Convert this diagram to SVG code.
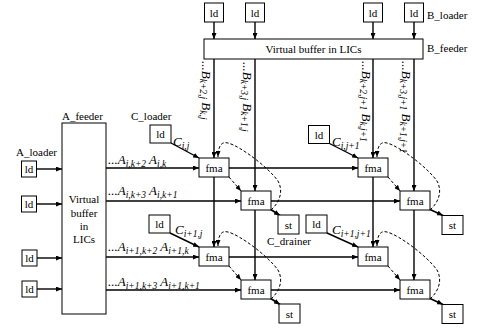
<svg xmlns="http://www.w3.org/2000/svg" width="487" height="328" viewBox="0 0 487 328">
<style>
.box{fill:#fff;stroke:#000;stroke-width:1}
.t{font-family:"Liberation Serif","Times New Roman",serif;font-size:11px;fill:#000}
.c{text-anchor:middle}
.lab{font-family:"Liberation Serif","Times New Roman",serif;font-size:13px;font-style:italic;fill:#000}
.sub{font-size:9.5px}
.ln{fill:none;stroke:#000;stroke-width:1.4}
.th{fill:none;stroke:#000;stroke-width:1.8}
.da{fill:none;stroke:#000;stroke-width:1;stroke-dasharray:3,2}
</style>
<defs>
<marker id="ah" viewBox="0 0 6 5" refX="6" refY="2.5" markerWidth="6" markerHeight="5" markerUnits="userSpaceOnUse" orient="auto"><path d="M0,0 L6,2.5 L0,5 z" fill="#000"/></marker>
</defs>

<g id="connectors">
<line class="ln" x1="214" y1="22" x2="214" y2="39" marker-end="url(#ah)"/>
<line class="ln" x1="255" y1="22" x2="255" y2="39" marker-end="url(#ah)"/>
<line class="ln" x1="373" y1="22" x2="373" y2="39" marker-end="url(#ah)"/>
<line class="ln" x1="414" y1="22" x2="414" y2="39" marker-end="url(#ah)"/>
<line class="ln" x1="214" y1="59" x2="214" y2="158" marker-end="url(#ah)"/>
<line class="ln" x1="255" y1="59" x2="255" y2="191" marker-end="url(#ah)"/>
<line class="ln" x1="373" y1="59" x2="373" y2="158" marker-end="url(#ah)"/>
<line class="ln" x1="414" y1="59" x2="414" y2="191" marker-end="url(#ah)"/>
<line class="ln" x1="214" y1="177" x2="214" y2="247" marker-end="url(#ah)"/>
<line class="ln" x1="255" y1="210" x2="255" y2="280" marker-end="url(#ah)"/>
<line class="ln" x1="373" y1="177" x2="373" y2="247" marker-end="url(#ah)"/>
<line class="ln" x1="414" y1="210" x2="414" y2="280" marker-end="url(#ah)"/>
<line class="ln" x1="36.5" y1="169" x2="62" y2="169" marker-end="url(#ah)"/>
<line class="ln" x1="36.5" y1="204" x2="62" y2="204" marker-end="url(#ah)"/>
<line class="ln" x1="37" y1="258" x2="62" y2="258" marker-end="url(#ah)"/>
<line class="ln" x1="37" y1="289" x2="62" y2="289" marker-end="url(#ah)"/>
<line class="ln" x1="106" y1="168" x2="199" y2="168" marker-end="url(#ah)"/>
<line class="ln" x1="229" y1="168" x2="358" y2="168" marker-end="url(#ah)"/>
<line class="ln" x1="106" y1="201" x2="241" y2="201" marker-end="url(#ah)"/>
<line class="ln" x1="271" y1="201" x2="400" y2="201" marker-end="url(#ah)"/>
<line class="ln" x1="106" y1="257" x2="199" y2="257" marker-end="url(#ah)"/>
<line class="ln" x1="229" y1="257" x2="358" y2="257" marker-end="url(#ah)"/>
<line class="ln" x1="106" y1="290" x2="241" y2="290" marker-end="url(#ah)"/>
<line class="ln" x1="271" y1="290" x2="400" y2="290" marker-end="url(#ah)"/>
<line class="ln" x1="171" y1="143" x2="199" y2="158" marker-end="url(#ah)"/>
<line class="ln" x1="170" y1="233" x2="199" y2="247" marker-end="url(#ah)"/>
<line class="ln" x1="329.5" y1="143.5" x2="358" y2="158" marker-end="url(#ah)"/>
<line class="ln" x1="327" y1="233" x2="358" y2="247" marker-end="url(#ah)"/>
<line class="th" x1="270" y1="209" x2="280" y2="215.5" marker-end="url(#ah)"/>
<line class="th" x1="270" y1="298" x2="280" y2="304.5" marker-end="url(#ah)"/>
<line class="th" x1="429" y1="209" x2="443" y2="215.5" marker-end="url(#ah)"/>
<line class="th" x1="429" y1="298" x2="443" y2="304.5" marker-end="url(#ah)"/>
<line class="da" x1="229" y1="177" x2="241" y2="191" marker-end="url(#ah)"/>
<line class="da" x1="388" y1="177" x2="400" y2="191" marker-end="url(#ah)"/>
<line class="da" x1="229" y1="266" x2="241" y2="280" marker-end="url(#ah)"/>
<line class="da" x1="388" y1="266" x2="400" y2="280" marker-end="url(#ah)"/>
<path class="da" d="M271,210 C281,201 283,190 278,181 C268,167 240,146 228,143 C221,141 218,147 218,157" marker-end="url(#ah)"/>
<path class="da" d="M430,210 C440,201 442,190 437,181 C427,167 399,146 387,143 C380,141 377,147 377,157" marker-end="url(#ah)"/>
<path class="da" d="M271,299 C281,290 283,279 278,270 C268,256 240,235 228,232 C221,230 218,236 218,246" marker-end="url(#ah)"/>
<path class="da" d="M430,299 C440,290 442,279 437,270 C427,256 399,235 387,232 C380,230 377,236 377,246" marker-end="url(#ah)"/>
</g>

<g id="b-loader-1"><rect class="box" x="204.5" y="3" width="19" height="19"/><text class="t c" x="214" y="16.5">ld</text></g>
<g id="b-loader-2"><rect class="box" x="245.5" y="3" width="19" height="19"/><text class="t c" x="255" y="16.5">ld</text></g>
<g id="b-loader-3"><rect class="box" x="363.5" y="3" width="19" height="19"/><text class="t c" x="373" y="16.5">ld</text></g>
<g id="b-loader-4"><rect class="box" x="404.5" y="3" width="19" height="19"/><text class="t c" x="414" y="16.5">ld</text></g>
<text class="t" x="427" y="19">B_loader</text>

<g id="b-feeder"><rect class="box" x="204" y="39" width="219" height="20"/><text class="t c" x="313.5" y="53">Virtual buffer in LICs</text></g>
<text class="t" x="427" y="52">B_feeder</text>

<g id="a-feeder"><rect class="box" x="62" y="123" width="44" height="191"/>
<text class="t c" x="84" y="203">Virtual</text><text class="t c" x="84" y="216.5">buffer</text><text class="t c" x="84" y="230">in</text><text class="t c" x="84" y="243">LICs</text></g>
<text class="t" x="62" y="120">A_feeder</text>
<text class="t" x="16" y="156">A_loader</text>

<g id="a-loader-1"><rect class="box" x="21.5" y="161" width="15" height="16"/><text class="t c" x="29" y="172.5">ld</text></g>
<g id="a-loader-2"><rect class="box" x="21.5" y="196" width="15" height="16"/><text class="t c" x="29" y="207.5">ld</text></g>
<g id="a-loader-3"><rect class="box" x="22" y="250" width="15" height="16"/><text class="t c" x="29.5" y="261.5">ld</text></g>
<g id="a-loader-4"><rect class="box" x="22" y="281" width="15" height="16"/><text class="t c" x="29.5" y="292.5">ld</text></g>

<text class="t" x="131" y="120">C_loader</text>
<g id="c-loader-1"><rect class="box" x="150" y="125" width="21" height="18"/><text class="t c" x="160.5" y="138">ld</text></g>
<g id="c-loader-2"><rect class="box" x="149" y="215" width="21" height="18"/><text class="t c" x="159.5" y="228">ld</text></g>
<g id="c-loader-3"><rect class="box" x="308.5" y="125.5" width="21" height="18"/><text class="t c" x="319" y="138.5">ld</text></g>
<g id="c-loader-4"><rect class="box" x="306" y="215" width="21" height="18"/><text class="t c" x="316.5" y="228">ld</text></g>

<g id="fma-1"><rect class="box" x="199" y="158" width="30" height="19"/><text class="t c" x="214" y="171.5">fma</text></g>
<g id="fma-2"><rect class="box" x="241" y="191" width="30" height="19"/><text class="t c" x="256" y="204.5">fma</text></g>
<g id="fma-3"><rect class="box" x="199" y="247" width="30" height="19"/><text class="t c" x="214" y="260.5">fma</text></g>
<g id="fma-4"><rect class="box" x="241" y="280" width="30" height="19"/><text class="t c" x="256" y="293.5">fma</text></g>
<g id="fma-5"><rect class="box" x="358" y="158" width="30" height="19"/><text class="t c" x="373" y="171.5">fma</text></g>
<g id="fma-6"><rect class="box" x="400" y="191" width="30" height="19"/><text class="t c" x="415" y="204.5">fma</text></g>
<g id="fma-7"><rect class="box" x="358" y="247" width="30" height="19"/><text class="t c" x="373" y="260.5">fma</text></g>
<g id="fma-8"><rect class="box" x="400" y="280" width="30" height="19"/><text class="t c" x="415" y="293.5">fma</text></g>

<g id="st-1"><rect class="box" x="278" y="215" width="21" height="19"/><text class="t c" x="288.5" y="228.5">st</text></g>
<g id="st-2"><rect class="box" x="279" y="304" width="21" height="19"/><text class="t c" x="289.5" y="317.5">st</text></g>
<g id="st-3"><rect class="box" x="442" y="215.5" width="21" height="19"/><text class="t c" x="452.5" y="229">st</text></g>
<g id="st-4"><rect class="box" x="442" y="304.5" width="21" height="19"/><text class="t c" x="452.5" y="318">st</text></g>
<text class="t" x="267" y="245">C_drainer</text>

<text class="lab" x="108" y="164">...A<tspan class="sub" dy="2.5">i,k+2</tspan><tspan dy="-2.5"> A</tspan><tspan class="sub" dy="2.5">i,k</tspan></text>
<text class="lab" x="108" y="195">...A<tspan class="sub" dy="2.5">i,k+3</tspan><tspan dy="-2.5"> A</tspan><tspan class="sub" dy="2.5">i,k+1</tspan></text>
<text class="lab" x="108" y="251">...A<tspan class="sub" dy="2.5">i+1,k+2</tspan><tspan dy="-2.5"> A</tspan><tspan class="sub" dy="2.5">i+1,k</tspan></text>
<text class="lab" x="108" y="286">...A<tspan class="sub" dy="2.5">i+1,k+3</tspan><tspan dy="-2.5"> A</tspan><tspan class="sub" dy="2.5">i+1,k+1</tspan></text>

<text class="lab" x="173" y="146">C<tspan class="sub" dy="2.5">i,j</tspan></text>
<text class="lab" x="175" y="234">C<tspan class="sub" dy="2.5">i+1,j</tspan></text>
<text class="lab" x="332" y="146">C<tspan class="sub" dy="2.5">i,j+1</tspan></text>
<text class="lab" x="332" y="234">C<tspan class="sub" dy="2.5">i+1,j+1</tspan></text>

<text class="lab" transform="translate(202,61) rotate(90)">...B<tspan class="sub" dy="2.5">k+2,j</tspan><tspan dy="-2.5"> B</tspan><tspan class="sub" dy="2.5">k,j</tspan></text>
<text class="lab" transform="translate(243,62) rotate(90)">...B<tspan class="sub" dy="2.5">k+3,j</tspan><tspan dy="-2.5"> B</tspan><tspan class="sub" dy="2.5">k+1,j</tspan></text>
<text class="lab" transform="translate(362,61) rotate(90)">...B<tspan class="sub" dy="2.5">k+2,j+1</tspan><tspan dy="-2.5"> B</tspan><tspan class="sub" dy="2.5">k,j+1</tspan></text>
<text class="lab" transform="translate(402,61) rotate(90)">...B<tspan class="sub" dy="2.5">k+3,j+1</tspan><tspan dy="-2.5"> B</tspan><tspan class="sub" dy="2.5">k+1,j+1</tspan></text>
</svg>
